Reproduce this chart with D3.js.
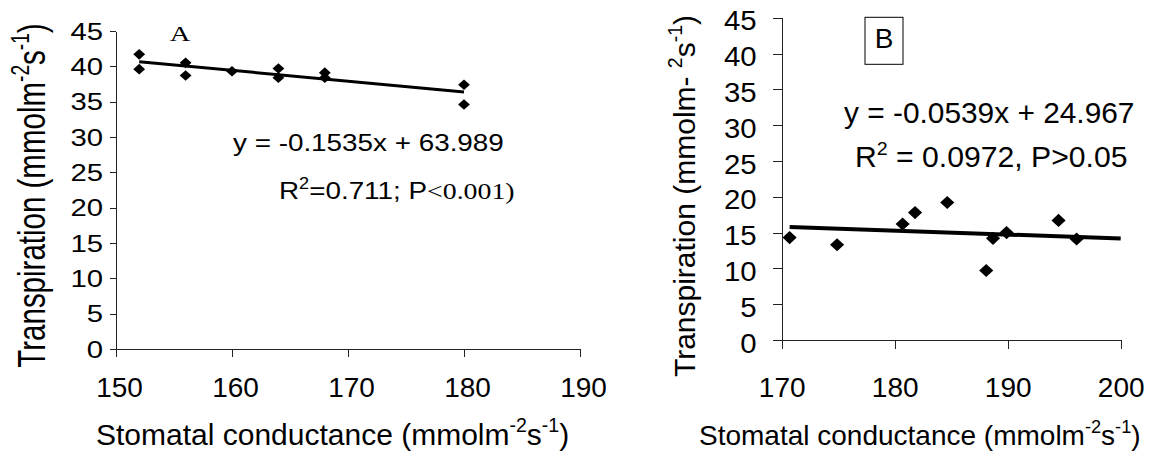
<!DOCTYPE html>
<html><head><meta charset="utf-8">
<script src="https://cdn.jsdelivr.net/npm/d3@7"></script>
<style>body{margin:0;background:#fff}svg{display:block}</style>
</head><body>
<svg id="c" width="1153" height="459"></svg>
<script>
// ---- data ----
const aX = [152, 152, 156, 156, 160, 164, 164, 168, 168, 180, 180];
const aY = [41.7, 39.6, 40.5, 38.7, 39.3, 39.7, 38.4, 39.1, 38.4, 37.4, 34.6];
const bX = [170.7, 174.9, 180.7, 181.8, 184.65, 188.1, 188.7, 189.9, 194.5, 196.1];
const bY = [14.3, 13.3, 16.2, 17.8, 19.2, 9.7, 14.2, 15.0, 16.7, 14.1];
const yTicks = [0, 5, 10, 15, 20, 25, 30, 35, 40, 45];
const aXTicks = [150, 160, 170, 180, 190];
const bXTicks = [170, 180, 190, 200];
const aFit = {slope: -0.1535, intercept: 63.989, from: 152, to: 180};
const bFit = {slope: -0.0539, intercept: 24.967, from: 170.7, to: 200};

const SANS = "'Liberation Sans', Arial, sans-serif";
const SERIF = "'Liberation Serif', 'Times New Roman', serif";
const svg = d3.select("#c");
svg.append("rect").attr("width",1153).attr("height",459).attr("fill","#fff");

function rich(sel, parts, fs) {
  let shift = 0;
  parts.forEach(p => {
    const ts = sel.append("tspan").text(p.t);
    const target = p.sup ? -0.42 * fs : 0;
    ts.attr("dy", target - shift); shift = target;
    if (p.sup) ts.attr("font-size", 0.65 * fs);
    if (p.family) ts.attr("font-family", p.family);
  });
}

function panel(o) {
  const x = d3.scaleLinear().domain(o.xDom).range(o.xR);
  const y = d3.scaleLinear().domain([0, 45]).range(o.yR);
  const g = svg.append("g");
  const ya = g.append("g").attr("transform", `translate(${o.xR[0]},0)`)
    .call(d3.axisLeft(y).tickValues(yTicks).tickSize(o.yTick).tickSizeOuter(0));
  const xa = g.append("g").attr("transform", `translate(0,${o.yR[0]})`)
    .call(d3.axisBottom(x).tickValues(o.xTicks).tickSize(o.xTick).tickSizeOuter(0));
  [ya, xa].forEach(a => {
    a.selectAll("path,line").attr("stroke", "#222").attr("stroke-width", 1).attr("shape-rendering", "crispEdges");
    a.selectAll("text").attr("fill", "#000").attr("font-family", SANS);
  });
  ya.selectAll("text").attr("font-size", o.yFs).attr("x", null).attr("dy", null)
    .attr("transform", `translate(${o.yLabX},${o.yLabDy}) scale(${o.yLabSx},1)`);
  xa.selectAll("text").attr("font-size", o.xFs).attr("y", null).attr("dy", null)
    .attr("transform", `translate(${o.xLabDx},${o.xLabY})`);

  // trend line
  g.append("line")
    .attr("x1", x(o.fit.from)).attr("y1", y(o.fit.slope * o.fit.from + o.fit.intercept))
    .attr("x2", x(o.fit.to)).attr("y2", y(o.fit.slope * o.fit.to + o.fit.intercept))
    .attr("stroke", "#000").attr("stroke-width", o.lw);

  // points
  const sym = d3.symbol().type(d3.symbolSquare).size(o.msize);
  g.selectAll("path.pt").data(o.xs.map((v, i) => [v, o.ys[i]])).join("path")
    .attr("class", "pt").attr("d", sym)
    .attr("transform", d => `translate(${x(d[0])},${y(d[1])}) scale(1,${o.msy}) rotate(45)`)
    .attr("fill", "#000");
  return {x, y, g};
}

// ---- Panel A ----
const A = panel({
  xDom: [150, 190], xR: [116, 580], yR: [349, 31], xTicks: aXTicks,
  yTick: 6, xTick: 8, yFs: 24, yLabX: -13, yLabDy: 8, yLabSx: 1.22,
  xFs: 28, xLabDx: 3, xLabY: 48, fit: aFit, lw: 3, xs: aX, ys: aY, msize: 70, msy: 0.9
});
svg.append("text").attr("font-family", SERIF).attr("font-size", 22).attr("text-anchor", "middle")
  .attr("transform", "translate(180,41) scale(1.3,1)").text("A");
svg.append("text").attr("font-family", SANS).attr("font-size", 24)
  .attr("transform", "translate(233,150.7) scale(1.16,1)").text("y = -0.1535x + 63.989");
rich(svg.append("text").attr("font-family", SANS).attr("font-size", 24)
  .attr("transform", "translate(279,199.3) scale(1.16,1)"),
  [{t: "R"}, {t: "2", sup: true}, {t: "=0.711; P"}, {t: "<0.001)", family: SERIF}], 24);
rich(svg.append("text").attr("font-family", SANS).attr("font-size", 29.5)
  .attr("text-anchor", "middle").attr("transform", "translate(45,195.5) rotate(-90) scale(1,1.3)"),
  [{t: "Transpiration (mmolm"}, {t: "-2", sup: true}, {t: "s"}, {t: "-1", sup: true}, {t: ")"}], 29.5);
rich(svg.append("text").attr("font-family", SANS).attr("font-size", 30)
  .attr("transform", "translate(96,445)"),
  [{t: "Stomatal conductance (mmolm"}, {t: "-2", sup: true}, {t: "s"}, {t: "-1", sup: true}, {t: ")"}], 30);

// ---- Panel B ----
const B = panel({
  xDom: [170, 200], xR: [781.7, 1120.7], yR: [340, 17.8], xTicks: bXTicks,
  yTick: 9, xTick: 9, yFs: 28, yLabX: -25, yLabDy: 12, yLabSx: 1.05,
  xFs: 28, xLabDx: 0, xLabY: 57, fit: bFit, lw: 4, xs: bX, ys: bY, msize: 100, msy: 0.93
});
svg.append("rect").attr("x", 865).attr("y", 17.3).attr("width", 38).attr("height", 47)
  .attr("fill", "none").attr("stroke", "#000").attr("stroke-width", 1);
svg.append("text").attr("font-family", SANS).attr("font-size", 28).attr("text-anchor", "middle")
  .attr("x", 884).attr("y", 48).text("B");
svg.append("text").attr("font-family", SANS).attr("font-size", 29)
  .attr("transform", "translate(844,123) scale(1.03,1)").text("y = -0.0539x + 24.967");
rich(svg.append("text").attr("font-family", SANS).attr("font-size", 29)
  .attr("transform", "translate(855,166.7) scale(1.04,1)"),
  [{t: "R"}, {t: "2", sup: true}, {t: " = 0.0972, P>0.05"}], 29);
rich(svg.append("text").attr("font-family", SANS).attr("font-size", 30)
  .attr("text-anchor", "middle").attr("transform", "translate(695,196) rotate(-90)"),
  [{t: "Transpiration (mmolm- "}, {t: "2", sup: true}, {t: "s"}, {t: "-1", sup: true}, {t: ")"}], 30);
rich(svg.append("text").attr("font-family", SANS).attr("font-size", 28)
  .attr("transform", "translate(699,445)"),
  [{t: "Stomatal conductance (mmolm"}, {t: "-2", sup: true}, {t: "s"}, {t: "-1", sup: true}, {t: ")"}], 28);
</script>
</body></html>
